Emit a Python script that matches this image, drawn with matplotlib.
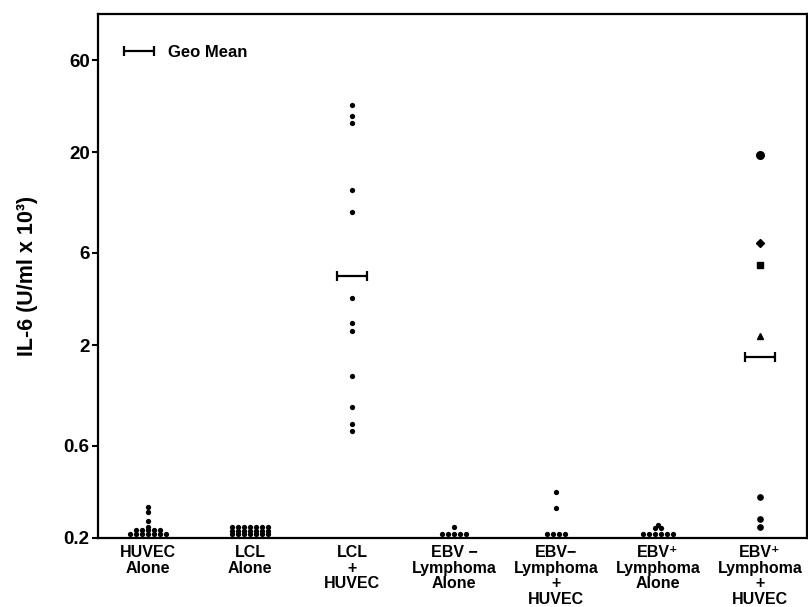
import numpy as np
import matplotlib
matplotlib.use('Agg')
import matplotlib.pyplot as plt
from matplotlib.legend_handler import HandlerErrorbar
from matplotlib.container import ErrorbarContainer

plt.rcParams['font.family'] = ['Liberation Sans', 'DejaVu Sans']
plt.rcParams['font.weight'] = 'bold'

# categories
groups = ['HUVEC\nAlone', 'LCL\nAlone', 'LCL\n+\nHUVEC',
          'EBV −\nLymphoma\nAlone', 'EBV−\nLymphoma\n+\nHUVEC',
          'EBV⁺\nLymphoma\nAlone', 'EBV⁺\nLymphoma\n+\nHUVEC']

# IL-6 values (U/ml x 10^3)
huvec_alone = [0.29, 0.273, 0.246, 0.229] + [0.219] * 5 + [0.21] * 7
lcl_alone = [0.227] * 7 + [0.217] * 7 + [0.209] * 7
lcl_huvec = [35.0, 30.8, 28.4, 12.8, 9.8, 3.49, 2.61, 2.37, 1.38, 0.95, 0.78, 0.72]
ebvneg_alone = [0.227] + [0.21] * 5
ebvneg_huvec = [0.345, 0.287] + [0.21] * 4
ebvpos_alone = [0.233] + [0.224] * 2 + [0.21] * 6
ebvpos_huvec = [19.4, 6.8, 5.2, 2.23, 0.325, 0.25, 0.229]

# geometric means shown as bars
geo_mean_groups = [2, 6]
geo_mean_values = [4.57, 1.73]

yticks = [0.2, 0.6, 2, 6, 20, 60]
ytick_labels = ['0.2', '0.6', '2', '6', '20', '60']

data = [huvec_alone, lcl_alone, lcl_huvec, ebvneg_alone,
        ebvneg_huvec, ebvpos_alone, ebvpos_huvec]

# marker shapes for the last group (first ones differ in the original)
last_markers = ['o', 'D', 's', '^', 'o', 'o', 'o']
last_sizes = [5.5, 3.8, 4.0, 4.6, 3.8, 3.8, 3.8]


def spread(vals, step):
    # put equal values side by side, like a dot plot
    vals = np.asarray(vals)
    offs = np.zeros(len(vals))
    for v in np.unique(vals):
        idx = np.where(vals == v)[0]
        n = len(idx)
        offs[idx] = (np.arange(n) - (n - 1) / 2) * step
    return offs


fig = plt.figure(figsize=(8.08, 6.07), dpi=100)
ax = fig.add_axes([0.1213, 0.1137, 0.8775, 0.8633])
ax.set_yscale('log')

step = 0.058
for i, vals in enumerate(data):
    xs = i + spread(vals, step)
    if i == 6:
        for x, v, m, s in zip(xs, vals, last_markers, last_sizes):
            ax.plot(x, v, linestyle='none', marker=m, ms=s, color='k',
                    clip_on=False)
    else:
        ax.plot(xs, vals, linestyle='none', marker='o', ms=3.8, color='k',
                mew=0, clip_on=False)

for k, (g, m) in enumerate(zip(geo_mean_groups, geo_mean_values)):
    ax.errorbar([g], [m], xerr=0.15, fmt='none', ecolor='k', elinewidth=1.6,
                capsize=3.5, capthick=1.6,
                label='Geo Mean' if k == 0 else None)

ax.set_xlim(-0.49, 6.46)
ax.set_ylim(0.2, 104)
ax.set_xticks(range(len(groups)))
ax.set_xticklabels(groups, fontsize=11.5, linespacing=1.05)
ax.tick_params(axis='x', length=0, pad=5)
ax.set_yticks(yticks)
ax.set_yticklabels(ytick_labels, fontsize=13.5)
ax.yaxis.set_minor_locator(matplotlib.ticker.NullLocator())
ax.tick_params(axis='y', direction='out', length=4, width=1.5, pad=2)

ax.set_ylabel('IL-6 (U/ml x 10³)', fontsize=15.5, fontweight='bold')
ax.yaxis.set_label_coords(-0.084, 0.5)

for sp in ax.spines.values():
    sp.set_linewidth(1.6)

ax.legend(loc='upper left', bbox_to_anchor=(0.037, 0.941), frameon=False,
          handlelength=1.8, handletextpad=0.8, borderpad=0, borderaxespad=0,
          prop={'size': 12, 'weight': 'bold'},
          handler_map={ErrorbarContainer: HandlerErrorbar(xerr_size=0.9)})

fig.savefig('out.png', dpi=100)
